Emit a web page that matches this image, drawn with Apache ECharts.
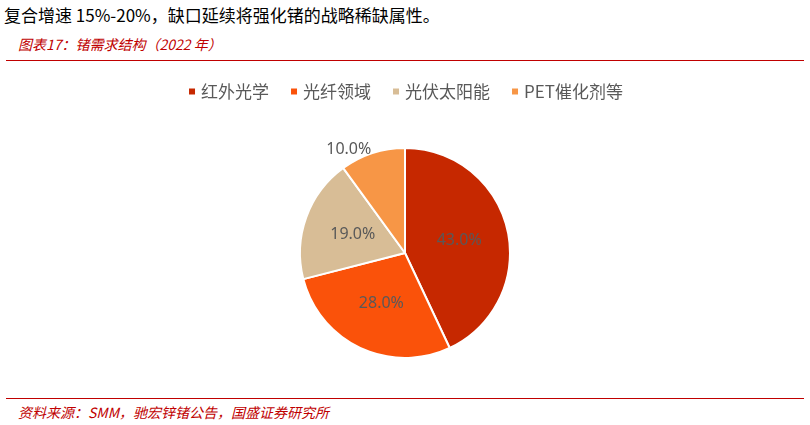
<!DOCTYPE html>
<html><head><meta charset="utf-8">
<script src="https://cdn.jsdelivr.net/npm/echarts@6/dist/echarts.min.js"></script>
<style>
body{margin:0;width:810px;height:425px;background:#fff;position:relative;font-family:"Noto Sans CJK SC",sans-serif;overflow:hidden}
#top{position:absolute;left:4px;top:2px;font-size:17px;color:#000}
#ttl{position:absolute;left:18px;top:34px;font-size:14px;color:#c00000;font-style:italic}
#l1{position:absolute;left:6px;right:6px;top:60px;border-top:1px solid #c00000}
#l2{position:absolute;left:6px;right:6px;top:398px;border-top:1px solid #c00000}
#src{position:absolute;left:18px;top:402px;font-size:14px;color:#c00000;font-style:italic}
#chart{position:absolute;left:0;top:62px;width:810px;height:334px}
</style></head><body>
<div id="top">复合增速 15%-20%，缺口延续将强化锗的战略稀缺属性。</div>
<div id="ttl">图表17：锗需求结构（2022 年）</div>
<div id="l1"></div>
<div id="chart"></div>
<div id="l2"></div>
<div id="src">资料来源：SMM，驰宏锌锗公告，国盛证券研究所</div>
<script>
var categories = ['红外光学', '光纤领域', '光伏太阳能', 'PET催化剂等'];
var shares = [43.0, 28.0, 19.0, 10.0];
var colors = ['#c62800', '#fa520a', '#d8bd96', '#f79646'];

var chart = echarts.init(document.getElementById('chart'));
chart.setOption({
    color: colors,
    legend: {
        top: 16, left: 'center', itemWidth: 8, itemHeight: 8, icon: 'rect', itemGap: 20,
        textStyle: {fontSize: 17, color: '#595959', fontFamily: 'Noto Sans CJK SC'}
    },
    series: [{
        type: 'pie', center: [405, 191], radius: [0, 105], startAngle: 90,
        itemStyle: {borderColor: '#fff', borderWidth: 2},
        label: {position: 'inside', formatter: p => p.value.toFixed(1) + '%',
            fontSize: 16, color: '#595959', fontFamily: 'Noto Sans'},
        labelLine: {show: false},
        data: categories.map((c, i) => {
            var d = {name: c, value: shares[i]};
            if (i === 3) {
                d.label = {position: 'outside', distanceToLabelLine: 0};
                d.labelLine = {show: false, length: 4, length2: 0};
            }
            return d;
        })
    }]
});
</script>
</body></html>
